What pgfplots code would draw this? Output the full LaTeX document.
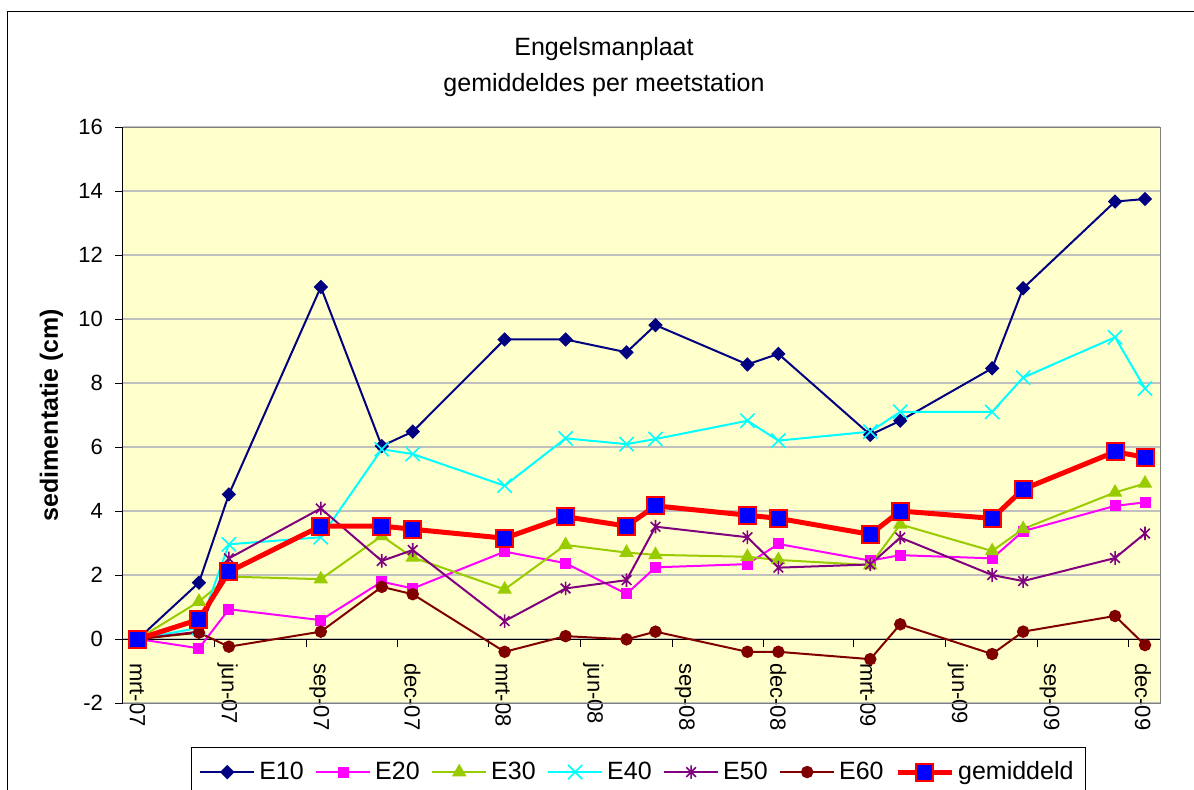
\documentclass[border=0pt]{standalone}
\usepackage{pgfplots}
\pgfplotsset{compat=1.18}
\usepackage{pgfplotstable}
\usepackage{fontspec}
\setmainfont{Liberation Sans}

\definecolor{cE10}{RGB}{0,0,128}
\definecolor{cE20}{RGB}{255,0,255}
\definecolor{cE30}{RGB}{153,204,0}
\definecolor{cE40}{RGB}{0,255,255}
\definecolor{cE50}{RGB}{128,0,128}
\definecolor{cE60}{RGB}{128,0,0}
\definecolor{cGem}{RGB}{255,0,0}
\definecolor{cGemFill}{RGB}{0,0,255}
\definecolor{plotbg}{RGB}{255,255,204}
\definecolor{gridc}{RGB}{192,192,192}
\definecolor{borderc}{RGB}{128,128,128}

\pgfdeclareplotmark{xlstar}{%
  \pgfpathmoveto{\pgfqpoint{-.7071\pgfplotmarksize}{-.7071\pgfplotmarksize}}%
  \pgfpathlineto{\pgfqpoint{.7071\pgfplotmarksize}{.7071\pgfplotmarksize}}%
  \pgfpathmoveto{\pgfqpoint{-.7071\pgfplotmarksize}{.7071\pgfplotmarksize}}%
  \pgfpathlineto{\pgfqpoint{.7071\pgfplotmarksize}{-.7071\pgfplotmarksize}}%
  \pgfpathmoveto{\pgfqpoint{0pt}{-\pgfplotmarksize}}%
  \pgfpathlineto{\pgfqpoint{0pt}{\pgfplotmarksize}}%
  \pgfusepathqstroke}

% x = days since 1 March 2007
\pgfplotstableread{
day  E10   E20   E30  E40  E50  E60   gem
15   0     0     0    0    0    0     0
76   1.76  -0.29 1.17 0.35 0.23 0.20  0.61
106  4.52  0.93  1.95 2.96 2.52 -0.24 2.10
198  11.00 0.59  1.87 3.18 4.08 0.23  3.53
259  6.03  1.79  3.22 5.93 2.44 1.63  3.53
290  6.48  1.58  2.55 5.78 2.78 1.40  3.43
382  9.36  2.73  1.55 4.79 0.56 -0.40 3.15
443  9.36  2.37  2.94 6.27 1.58 0.09  3.82
504  8.96  1.41  2.70 6.09 1.84 -0.01 3.53
533  9.81  2.24  2.63 6.25 3.51 0.23  4.16
625  8.58  2.34  2.57 6.82 3.18 -0.40 3.87
656  8.91  2.97  2.47 6.20 2.23 -0.40 3.77
748  6.38  2.45  2.31 6.48 2.33 -0.63 3.27
778  6.82  2.62  3.58 7.10 3.17 0.46  4.00
870  8.46  2.52  2.75 7.10 2.00 -0.47 3.77
901  10.96 3.37  3.44 8.17 1.81 0.23  4.68
993  13.67 4.16  4.58 9.43 2.53 0.72  5.85
1023 13.75 4.27  4.86 7.83 3.30 -0.19 5.68
}\data

\begin{document}
\begin{tikzpicture}
\draw[black, line width=0.5pt] (-57.5pt,345.5pt) rectangle (570pt,-90pt);
\begin{axis}[
  at={(0pt,0pt)}, anchor=south west,
  scale only axis, width=518.5pt, height=288pt,
  xmin=0, xmax=1038, ymin=-2, ymax=16,
  ytick={-2,0,2,4,6,8,10,12,14,16},
  xtick={0,92,184,275,366,458,550,641,731,823,915,1006},
  xticklabels={mrt-07,jun-07,sep-07,dec-07,mrt-08,jun-08,sep-08,dec-08,mrt-09,jun-09,sep-09,dec-09},
  axis x line*=middle, axis y line*=left,
  hide obscured x ticks=false, hide obscured y ticks=false,
  axis line style={-, black, line width=0.5pt},
  ymajorgrids, major grid style={gridc, line width=0.7pt},
  tick align=outside, major tick length=4pt,
  tick style={black, line width=0.5pt},
  axis background/.style={fill=plotbg},
  /pgf/number format/assume math mode=true,
  ticklabel style={font=\fontsize{11}{13}\selectfont},
  xticklabel style={anchor=base west, xshift=3.5pt, yshift=-4.5pt, rotate=-90},
  yticklabel style={xshift=-2.5pt},
  ylabel={\textbf{sedimentatie (cm)}},
  ylabel style={font=\fontsize{12.5}{15}\selectfont, at={(axis description cs:-0.0627,0.5)}, anchor=base, rotate=0},
  title={Engelsmanplaat\\gemiddeldes per meetstation},
  title style={font=\fontsize{12.5}{18}\selectfont, align=center, at={(axis description cs:0.4638,1)}, anchor=north, yshift=42.4pt},
  legend style={at={(axis description cs:0.497,-0.0764)}, anchor=north, legend columns=7, draw=black, line width=0.5pt,
    font=\fontsize{12.5}{15}\selectfont, inner xsep=4pt, inner ysep=5pt,
    /tikz/every even column/.append style={column sep=3.75pt}},
  legend image code/.code={\draw[mark repeat=2,mark phase=2] plot coordinates {(0pt,0pt) (13.5pt,0pt) (27pt,0pt)};},
  after end axis/.append code={\draw[borderc, line width=0.5pt] (rel axis cs:0,0) -- (rel axis cs:1,0) -- (rel axis cs:1,1) -- (rel axis cs:0,1);},
]
\addplot[cE10, line width=1pt, mark=diamond*, mark size=2.9pt, mark options={solid, xscale=1.33, fill=cE10}] table[x=day, y=E10] {\data};
\addlegendentry{E10}
\addplot[cE20, line width=1pt, mark=square*, mark size=2.25pt, mark options={solid, fill=cE20}] table[x=day, y=E20] {\data};
\addlegendentry{E20}
\addplot[cE30, line width=1pt, mark=triangle*, mark size=3.2pt, mark options={solid, fill=cE30}] table[x=day, y=E30] {\data};
\addlegendentry{E30}
\addplot[cE40, line width=1pt, mark=x, mark size=5pt, mark options={solid, line width=0.8pt}] table[x=day, y=E40] {\data};
\addlegendentry{E40}
\addplot[cE50, line width=1pt, mark=xlstar, mark size=3.4pt, mark options={solid, line width=0.8pt}] table[x=day, y=E50] {\data};
\addlegendentry{E50}
\addplot[cE60, line width=1pt, mark=*, mark size=2.6pt, mark options={solid, fill=cE60}] table[x=day, y=E60] {\data};
\addlegendentry{E60}
\addplot[cGem, line width=2.5pt, mark=square*, mark size=4.25pt, mark options={solid, fill=cGemFill, draw=cGem, line width=1pt}] table[x=day, y=gem] {\data};
\addlegendentry{gemiddeld}
\end{axis}
\pgfresetboundingbox
\useasboundingbox (-61.5pt,-43pt) rectangle (535.5pt,351.5pt);
\end{tikzpicture}
\end{document}
